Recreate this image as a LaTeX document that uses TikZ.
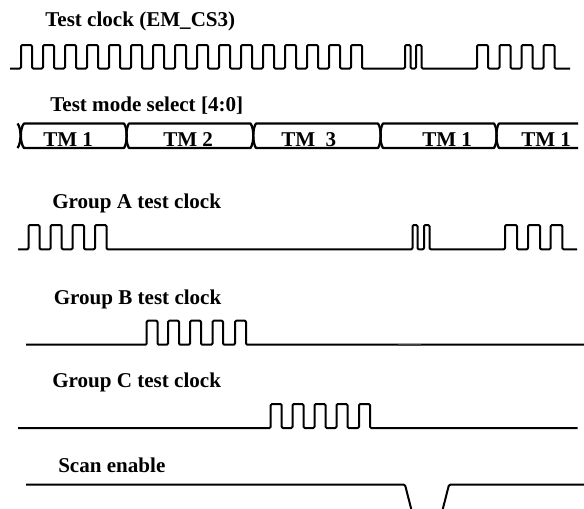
\documentclass[tikz,border=0pt]{standalone}
\usepackage{fontspec}
\setmainfont{Liberation Serif}
\tikzset{
  x=0.75pt,y=-0.75pt,
  wave/.style={line width=1.5pt,line join=round,rounded corners=0.9pt,black},
  busline/.style={line width=1.7pt,line join=round,black},
  lab/.style={inner sep=0pt,anchor=base west,font=\fontsize{15.8pt}{18pt}\selectfont\bfseries,text=black},
  bus/.style={inner sep=0pt,anchor=base west,font=\fontsize{15.8pt}{18pt}\selectfont\bfseries,text=black}
}
\begin{document}
\begin{tikzpicture}
\useasboundingbox (0,0) rectangle (584,508);
\clip (0,0) rectangle (584,508);
% labels
\node[lab] (l1) at (45,26.5) {Test clock (EM\_CS3)};
\node[lab] (l2) at (50,111.5) {Test mode select [4:0]};
\node[lab] (l3) at (52,208) {Group A test clock};
\node[lab] (l4) at (53.5,304) {Group B test clock};
\node[lab] (l5) at (52,387.5) {Group C test clock};
\node[lab] (l6) at (58,472) {Scan enable};
% test clock
\draw[wave] (10,68.5)
 -- (21,68.5) |- (32,45) |- (43,68.5) |- (54,45) |- (65,68.5) |- (76,45) |- (87,68.5) |- (98,45) |- (109,68.5)
 |- (120,45) |- (131,68.5) |- (142,45) |- (153,68.5) |- (164,45) |- (175,68.5) |- (186,45) |- (197,68.5)
 |- (208,45) |- (219,68.5) |- (230,45) |- (241,68.5) |- (252,45) |- (263,68.5) |- (274,45) |- (285,68.5)
 |- (296,45) |- (307,68.5) |- (318,45) |- (329,68.5) |- (340,45) |- (351,68.5) |- (362,45) |- (405,68.5)
 |- (410.5,45) |- (416,68.5) |- (421.5,45) |- (477,68.5) |- (488,45) |- (499.5,68.5) |- (510.5,45) |- (521.5,68.5)
 |- (532.5,45) |- (543.5,68.5) |- (554.5,45) |- (570,68.5);
% test mode bus
\draw[busline] (17.5,123.5) .. controls (21.5,128) and (21.5,143) .. (17.5,148);
\draw[busline] (24,123.5) -- (124,123.5) .. controls (127.6,128) and (127.6,143) .. (124,148) -- (24,148) .. controls (19.8,143) and (19.8,128) .. (24,123.5) -- cycle;
\draw[busline] (129,123.5) -- (250.5,123.5) .. controls (254.2,128) and (254.2,143) .. (250.5,148) -- (129,148) .. controls (125.5,143) and (125.5,128) .. (129,123.5) -- cycle;
\draw[busline] (256,123.5) -- (378,123.5) .. controls (381.6,128) and (381.6,143) .. (378,148) -- (256,148) .. controls (252.4,143) and (252.4,128) .. (256,123.5) -- cycle;
\draw[busline] (383,123.5) -- (494,123.5) .. controls (497.5,128) and (497.5,143) .. (494,148) -- (383,148) .. controls (379.5,143) and (379.5,128) .. (383,123.5) -- cycle;
\draw[busline] (578,123.5) -- (499,123.5) .. controls (495.5,128) and (495.5,143) .. (499,148) -- (578,148);
\node[bus] (t1) at (43,146) {TM 1};
\node[bus] (t2) at (163,146) {TM 2};
\node[bus] (t3) at (281,146) {TM\ \ 3};
\node[bus] (t4) at (422,146) {TM 1};
\node[bus] (t5) at (521,146) {TM 1};
% group A
\draw[wave] (18,249.3)
 -- (28.5,249.3) |- (39.5,225) |- (50.7,249.3) |- (61.7,225) |- (72.7,249.3) |- (84,225) |- (95,249.3) |- (106.5,225) |- (412.5,249.3)
 |- (417.5,225) |- (424,249.3) |- (429.5,225) |- (505,249.3) |- (517,225) |- (528,249.3) |- (540,225) |- (550.7,249.3) |- (562.3,225) |- (577,249.3);
% group B
\draw[wave] (26,344.7)
 -- (146.7,344.7) |- (157.5,320.7) |- (168,344.7) |- (179,320.7) |- (190,344.7) |- (201,320.7) |- (212.5,344.7) |- (223,320.7) |- (235,344.7) |- (246,320.7) |- (584,344.7);
\draw[line width=1.5pt,black!75] (398,345) -- (421,345);
% group C
\draw[wave] (18,428)
 -- (270.7,428) |- (281.7,404) |- (292.5,428) |- (303.5,404) |- (314.5,428) |- (325.5,404) |- (336.5,428) |- (347.5,404) |- (359,428) |- (370,404) |- (577.7,428);
% scan enable
\draw[wave] (26,484.7) -- (405,484.7) -- (413,516) (441,516) -- (449,484.7) -- (584,484.7);
\end{tikzpicture}
\end{document}
